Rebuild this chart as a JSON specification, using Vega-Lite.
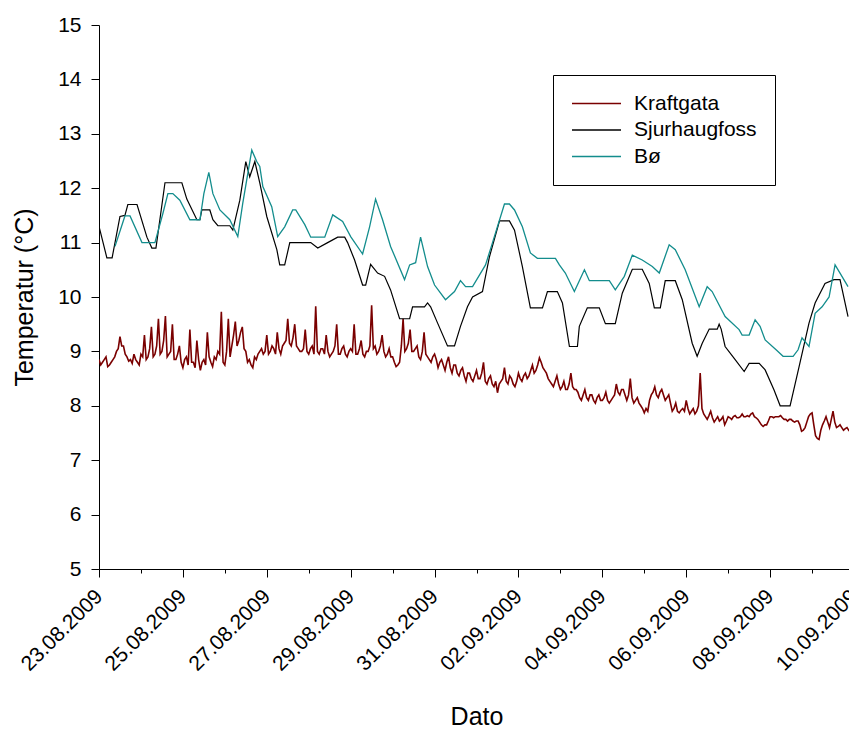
{
"$schema": "https://vega.github.io/schema/vega-lite/v6.json",
"width": 755, "height": 544,
"autosize": {"type": "none"},
"padding": {"left": 99, "top": 25, "right": 0, "bottom": 162},
"config": {"font": "Liberation Sans", "view": {"stroke": null},
 "axis": {"grid": false, "domainColor": "#000", "domainWidth": 1, "tickColor": "#000", "tickWidth": 1, "labelColor": "#000", "titleColor": "#000", "titleFontWeight": "normal", "labelFontSize": 21, "titleFontSize": 25}},
"datasets": {
"kraft": [
{"t":"2009-08-23T00:00","v":8.85},{"t":"2009-08-23T01:00","v":8.75},{"t":"2009-08-23T02:00","v":8.8},{"t":"2009-08-23T03:00","v":8.85},{"t":"2009-08-23T04:00","v":8.9},{"t":"2009-08-23T05:00","v":8.72},{"t":"2009-08-23T06:00","v":8.75},{"t":"2009-08-23T07:00","v":8.8},{"t":"2009-08-23T08:00","v":8.85},{"t":"2009-08-23T09:00","v":8.9},{"t":"2009-08-23T10:00","v":9.0},{"t":"2009-08-23T11:00","v":9.05},{"t":"2009-08-23T12:00","v":9.27},{"t":"2009-08-23T13:00","v":9.1},{"t":"2009-08-23T14:00","v":9.1},{"t":"2009-08-23T15:00","v":8.95},{"t":"2009-08-23T16:00","v":8.9},{"t":"2009-08-23T17:00","v":8.82},{"t":"2009-08-23T18:00","v":8.85},{"t":"2009-08-23T19:00","v":8.78},{"t":"2009-08-23T20:00","v":8.95},{"t":"2009-08-23T21:00","v":8.85},{"t":"2009-08-23T22:00","v":8.8},{"t":"2009-08-23T23:00","v":8.75},
{"t":"2009-08-24T00:00","v":8.95},{"t":"2009-08-24T01:00","v":8.9},{"t":"2009-08-24T02:00","v":9.3},{"t":"2009-08-24T03:00","v":8.85},{"t":"2009-08-24T04:00","v":8.9},{"t":"2009-08-24T05:00","v":9.05},{"t":"2009-08-24T06:00","v":9.45},{"t":"2009-08-24T07:00","v":8.9},{"t":"2009-08-24T08:00","v":8.95},{"t":"2009-08-24T09:00","v":9.1},{"t":"2009-08-24T10:00","v":9.6},{"t":"2009-08-24T11:00","v":8.95},{"t":"2009-08-24T12:00","v":9.0},{"t":"2009-08-24T13:00","v":9.2},{"t":"2009-08-24T14:00","v":9.65},{"t":"2009-08-24T15:00","v":8.9},{"t":"2009-08-24T16:00","v":8.95},{"t":"2009-08-24T17:00","v":9.0},{"t":"2009-08-24T18:00","v":9.5},{"t":"2009-08-24T19:00","v":8.85},{"t":"2009-08-24T20:00","v":8.85},{"t":"2009-08-24T21:00","v":8.95},{"t":"2009-08-24T22:00","v":9.1},{"t":"2009-08-24T23:00","v":8.8},
{"t":"2009-08-25T00:00","v":8.7},{"t":"2009-08-25T01:00","v":8.85},{"t":"2009-08-25T02:00","v":8.9},{"t":"2009-08-25T03:00","v":8.75},{"t":"2009-08-25T04:00","v":9.4},{"t":"2009-08-25T05:00","v":8.8},{"t":"2009-08-25T06:00","v":8.8},{"t":"2009-08-25T07:00","v":8.7},{"t":"2009-08-25T08:00","v":9.2},{"t":"2009-08-25T09:00","v":8.85},{"t":"2009-08-25T10:00","v":8.65},{"t":"2009-08-25T11:00","v":8.8},{"t":"2009-08-25T12:00","v":8.85},{"t":"2009-08-25T13:00","v":8.75},{"t":"2009-08-25T14:00","v":9.35},{"t":"2009-08-25T15:00","v":8.9},{"t":"2009-08-25T16:00","v":8.8},{"t":"2009-08-25T17:00","v":8.72},{"t":"2009-08-25T18:00","v":8.9},{"t":"2009-08-25T19:00","v":8.85},{"t":"2009-08-25T20:00","v":9.0},{"t":"2009-08-25T21:00","v":8.95},{"t":"2009-08-25T22:00","v":9.73},{"t":"2009-08-25T23:00","v":8.8},
{"t":"2009-08-26T00:00","v":8.75},{"t":"2009-08-26T01:00","v":9.0},{"t":"2009-08-26T02:00","v":9.6},{"t":"2009-08-26T03:00","v":8.9},{"t":"2009-08-26T04:00","v":9.1},{"t":"2009-08-26T05:00","v":9.3},{"t":"2009-08-26T06:00","v":9.55},{"t":"2009-08-26T07:00","v":9.1},{"t":"2009-08-26T08:00","v":9.2},{"t":"2009-08-26T09:00","v":9.35},{"t":"2009-08-26T10:00","v":9.45},{"t":"2009-08-26T11:00","v":9.05},{"t":"2009-08-26T12:00","v":9.0},{"t":"2009-08-26T13:00","v":8.8},{"t":"2009-08-26T14:00","v":8.85},{"t":"2009-08-26T15:00","v":8.75},{"t":"2009-08-26T16:00","v":8.7},{"t":"2009-08-26T17:00","v":8.9},{"t":"2009-08-26T18:00","v":8.85},{"t":"2009-08-26T19:00","v":8.95},{"t":"2009-08-26T20:00","v":9.0},{"t":"2009-08-26T21:00","v":9.05},{"t":"2009-08-26T22:00","v":8.95},{"t":"2009-08-26T23:00","v":9.0},
{"t":"2009-08-27T00:00","v":9.3},{"t":"2009-08-27T01:00","v":8.95},{"t":"2009-08-27T02:00","v":9.0},{"t":"2009-08-27T03:00","v":9.1},{"t":"2009-08-27T04:00","v":9.05},{"t":"2009-08-27T05:00","v":8.95},{"t":"2009-08-27T06:00","v":9.35},{"t":"2009-08-27T07:00","v":9.05},{"t":"2009-08-27T08:00","v":8.95},{"t":"2009-08-27T09:00","v":9.1},{"t":"2009-08-27T10:00","v":9.15},{"t":"2009-08-27T11:00","v":9.2},{"t":"2009-08-27T12:00","v":9.6},{"t":"2009-08-27T13:00","v":9.15},{"t":"2009-08-27T14:00","v":9.1},{"t":"2009-08-27T15:00","v":9.25},{"t":"2009-08-27T16:00","v":9.5},{"t":"2009-08-27T17:00","v":9.1},{"t":"2009-08-27T18:00","v":9.05},{"t":"2009-08-27T19:00","v":9.0},{"t":"2009-08-27T20:00","v":9.0},{"t":"2009-08-27T21:00","v":9.05},{"t":"2009-08-27T22:00","v":9.4},{"t":"2009-08-27T23:00","v":9.0},
{"t":"2009-08-28T00:00","v":8.95},{"t":"2009-08-28T01:00","v":9.05},{"t":"2009-08-28T02:00","v":9.1},{"t":"2009-08-28T03:00","v":8.95},{"t":"2009-08-28T04:00","v":9.83},{"t":"2009-08-28T05:00","v":9.0},{"t":"2009-08-28T06:00","v":8.95},{"t":"2009-08-28T07:00","v":9.05},{"t":"2009-08-28T08:00","v":9.05},{"t":"2009-08-28T09:00","v":8.95},{"t":"2009-08-28T10:00","v":9.3},{"t":"2009-08-28T11:00","v":9.0},{"t":"2009-08-28T12:00","v":8.9},{"t":"2009-08-28T13:00","v":8.95},{"t":"2009-08-28T14:00","v":9.0},{"t":"2009-08-28T15:00","v":9.1},{"t":"2009-08-28T16:00","v":9.5},{"t":"2009-08-28T17:00","v":8.95},{"t":"2009-08-28T18:00","v":8.95},{"t":"2009-08-28T19:00","v":9.05},{"t":"2009-08-28T20:00","v":9.1},{"t":"2009-08-28T21:00","v":8.95},{"t":"2009-08-28T22:00","v":8.9},{"t":"2009-08-28T23:00","v":9.0},
{"t":"2009-08-29T00:00","v":9.05},{"t":"2009-08-29T01:00","v":9.0},{"t":"2009-08-29T02:00","v":9.5},{"t":"2009-08-29T03:00","v":8.95},{"t":"2009-08-29T04:00","v":8.95},{"t":"2009-08-29T05:00","v":9.05},{"t":"2009-08-29T06:00","v":9.2},{"t":"2009-08-29T07:00","v":8.95},{"t":"2009-08-29T08:00","v":8.9},{"t":"2009-08-29T09:00","v":9.0},{"t":"2009-08-29T10:00","v":9.0},{"t":"2009-08-29T11:00","v":9.1},{"t":"2009-08-29T12:00","v":9.85},{"t":"2009-08-29T13:00","v":9.05},{"t":"2009-08-29T14:00","v":9.1},{"t":"2009-08-29T15:00","v":8.95},{"t":"2009-08-29T16:00","v":9.0},{"t":"2009-08-29T17:00","v":9.1},{"t":"2009-08-29T18:00","v":9.3},{"t":"2009-08-29T19:00","v":9.0},{"t":"2009-08-29T20:00","v":8.9},{"t":"2009-08-29T21:00","v":8.95},{"t":"2009-08-29T22:00","v":9.05},{"t":"2009-08-29T23:00","v":8.9},
{"t":"2009-08-30T00:00","v":8.9},{"t":"2009-08-30T01:00","v":8.8},{"t":"2009-08-30T02:00","v":8.72},{"t":"2009-08-30T03:00","v":8.75},{"t":"2009-08-30T04:00","v":8.8},{"t":"2009-08-30T05:00","v":9.1},{"t":"2009-08-30T06:00","v":9.6},{"t":"2009-08-30T07:00","v":9.0},{"t":"2009-08-30T08:00","v":9.05},{"t":"2009-08-30T09:00","v":9.15},{"t":"2009-08-30T10:00","v":9.4},{"t":"2009-08-30T11:00","v":9.0},{"t":"2009-08-30T12:00","v":9.0},{"t":"2009-08-30T13:00","v":9.05},{"t":"2009-08-30T14:00","v":9.1},{"t":"2009-08-30T15:00","v":8.9},{"t":"2009-08-30T16:00","v":8.85},{"t":"2009-08-30T17:00","v":9.0},{"t":"2009-08-30T18:00","v":9.35},{"t":"2009-08-30T19:00","v":8.95},{"t":"2009-08-30T20:00","v":8.9},{"t":"2009-08-30T21:00","v":8.85},{"t":"2009-08-30T22:00","v":8.8},{"t":"2009-08-30T23:00","v":8.9},
{"t":"2009-08-31T00:00","v":8.95},{"t":"2009-08-31T01:00","v":8.85},{"t":"2009-08-31T02:00","v":8.7},{"t":"2009-08-31T03:00","v":8.8},{"t":"2009-08-31T04:00","v":8.85},{"t":"2009-08-31T05:00","v":8.75},{"t":"2009-08-31T06:00","v":8.65},{"t":"2009-08-31T07:00","v":8.8},{"t":"2009-08-31T08:00","v":8.9},{"t":"2009-08-31T09:00","v":8.7},{"t":"2009-08-31T10:00","v":8.6},{"t":"2009-08-31T11:00","v":8.75},{"t":"2009-08-31T12:00","v":8.75},{"t":"2009-08-31T13:00","v":8.6},{"t":"2009-08-31T14:00","v":8.55},{"t":"2009-08-31T15:00","v":8.65},{"t":"2009-08-31T16:00","v":8.7},{"t":"2009-08-31T17:00","v":8.55},{"t":"2009-08-31T18:00","v":8.45},{"t":"2009-08-31T19:00","v":8.6},{"t":"2009-08-31T20:00","v":8.6},{"t":"2009-08-31T21:00","v":8.5},{"t":"2009-08-31T22:00","v":8.45},{"t":"2009-08-31T23:00","v":8.55},
{"t":"2009-09-01T00:00","v":8.65},{"t":"2009-09-01T01:00","v":8.5},{"t":"2009-09-01T02:00","v":8.5},{"t":"2009-09-01T03:00","v":8.6},{"t":"2009-09-01T04:00","v":8.8},{"t":"2009-09-01T05:00","v":8.45},{"t":"2009-09-01T06:00","v":8.4},{"t":"2009-09-01T07:00","v":8.5},{"t":"2009-09-01T08:00","v":8.55},{"t":"2009-09-01T09:00","v":8.4},{"t":"2009-09-01T10:00","v":8.35},{"t":"2009-09-01T11:00","v":8.45},{"t":"2009-09-01T12:00","v":8.24},{"t":"2009-09-01T13:00","v":8.4},{"t":"2009-09-01T14:00","v":8.45},{"t":"2009-09-01T15:00","v":8.5},{"t":"2009-09-01T16:00","v":8.7},{"t":"2009-09-01T17:00","v":8.45},{"t":"2009-09-01T18:00","v":8.4},{"t":"2009-09-01T19:00","v":8.55},{"t":"2009-09-01T20:00","v":8.5},{"t":"2009-09-01T21:00","v":8.4},{"t":"2009-09-01T22:00","v":8.35},{"t":"2009-09-01T23:00","v":8.45},
{"t":"2009-09-02T00:00","v":8.6},{"t":"2009-09-02T01:00","v":8.5},{"t":"2009-09-02T02:00","v":8.45},{"t":"2009-09-02T03:00","v":8.55},{"t":"2009-09-02T04:00","v":8.6},{"t":"2009-09-02T05:00","v":8.5},{"t":"2009-09-02T06:00","v":8.55},{"t":"2009-09-02T07:00","v":8.65},{"t":"2009-09-02T08:00","v":8.75},{"t":"2009-09-02T09:00","v":8.6},{"t":"2009-09-02T10:00","v":8.65},{"t":"2009-09-02T11:00","v":8.75},{"t":"2009-09-02T12:00","v":8.88},{"t":"2009-09-02T13:00","v":8.8},{"t":"2009-09-02T14:00","v":8.7},{"t":"2009-09-02T15:00","v":8.65},{"t":"2009-09-02T16:00","v":8.6},{"t":"2009-09-02T17:00","v":8.5},{"t":"2009-09-02T18:00","v":8.45},{"t":"2009-09-02T19:00","v":8.4},{"t":"2009-09-02T20:00","v":8.35},{"t":"2009-09-02T21:00","v":8.45},{"t":"2009-09-02T22:00","v":8.55},{"t":"2009-09-02T23:00","v":8.4},
{"t":"2009-09-03T00:00","v":8.3},{"t":"2009-09-03T01:00","v":8.35},{"t":"2009-09-03T02:00","v":8.45},{"t":"2009-09-03T03:00","v":8.3},{"t":"2009-09-03T04:00","v":8.3},{"t":"2009-09-03T05:00","v":8.4},{"t":"2009-09-03T06:00","v":8.6},{"t":"2009-09-03T07:00","v":8.35},{"t":"2009-09-03T08:00","v":8.3},{"t":"2009-09-03T09:00","v":8.3},{"t":"2009-09-03T10:00","v":8.25},{"t":"2009-09-03T11:00","v":8.15},{"t":"2009-09-03T12:00","v":8.1},{"t":"2009-09-03T13:00","v":8.2},{"t":"2009-09-03T14:00","v":8.3},{"t":"2009-09-03T15:00","v":8.15},{"t":"2009-09-03T16:00","v":8.1},{"t":"2009-09-03T17:00","v":8.2},{"t":"2009-09-03T18:00","v":8.2},{"t":"2009-09-03T19:00","v":8.1},{"t":"2009-09-03T20:00","v":8.05},{"t":"2009-09-03T21:00","v":8.15},{"t":"2009-09-03T22:00","v":8.2},{"t":"2009-09-03T23:00","v":8.1},
{"t":"2009-09-04T00:00","v":8.1},{"t":"2009-09-04T01:00","v":8.15},{"t":"2009-09-04T02:00","v":8.25},{"t":"2009-09-04T03:00","v":8.1},{"t":"2009-09-04T04:00","v":8.05},{"t":"2009-09-04T05:00","v":8.1},{"t":"2009-09-04T06:00","v":8.15},{"t":"2009-09-04T07:00","v":8.2},{"t":"2009-09-04T08:00","v":8.4},{"t":"2009-09-04T09:00","v":8.25},{"t":"2009-09-04T10:00","v":8.2},{"t":"2009-09-04T11:00","v":8.3},{"t":"2009-09-04T12:00","v":8.3},{"t":"2009-09-04T13:00","v":8.2},{"t":"2009-09-04T14:00","v":8.1},{"t":"2009-09-04T15:00","v":8.2},{"t":"2009-09-04T16:00","v":8.5},{"t":"2009-09-04T17:00","v":8.15},{"t":"2009-09-04T18:00","v":8.05},{"t":"2009-09-04T19:00","v":8.1},{"t":"2009-09-04T20:00","v":8.15},{"t":"2009-09-04T21:00","v":8.05},{"t":"2009-09-04T22:00","v":8.0},{"t":"2009-09-04T23:00","v":7.95},
{"t":"2009-09-05T00:00","v":7.87},{"t":"2009-09-05T01:00","v":7.95},{"t":"2009-09-05T02:00","v":7.9},{"t":"2009-09-05T03:00","v":8.1},{"t":"2009-09-05T04:00","v":8.2},{"t":"2009-09-05T05:00","v":8.25},{"t":"2009-09-05T06:00","v":8.35},{"t":"2009-09-05T07:00","v":8.2},{"t":"2009-09-05T08:00","v":8.15},{"t":"2009-09-05T09:00","v":8.25},{"t":"2009-09-05T10:00","v":8.3},{"t":"2009-09-05T11:00","v":8.2},{"t":"2009-09-05T12:00","v":8.1},{"t":"2009-09-05T13:00","v":8.15},{"t":"2009-09-05T14:00","v":8.2},{"t":"2009-09-05T15:00","v":8.05},{"t":"2009-09-05T16:00","v":7.9},{"t":"2009-09-05T17:00","v":7.95},{"t":"2009-09-05T18:00","v":8.05},{"t":"2009-09-05T19:00","v":7.9},{"t":"2009-09-05T20:00","v":7.87},{"t":"2009-09-05T21:00","v":7.92},{"t":"2009-09-05T22:00","v":7.95},{"t":"2009-09-05T23:00","v":7.9},
{"t":"2009-09-06T00:00","v":8.1},{"t":"2009-09-06T01:00","v":7.95},{"t":"2009-09-06T02:00","v":7.85},{"t":"2009-09-06T03:00","v":7.9},{"t":"2009-09-06T04:00","v":7.95},{"t":"2009-09-06T05:00","v":7.85},{"t":"2009-09-06T06:00","v":7.9},{"t":"2009-09-06T07:00","v":8.0},{"t":"2009-09-06T08:00","v":8.6},{"t":"2009-09-06T09:00","v":7.95},{"t":"2009-09-06T10:00","v":7.85},{"t":"2009-09-06T11:00","v":7.8},{"t":"2009-09-06T12:00","v":7.75},{"t":"2009-09-06T13:00","v":7.82},{"t":"2009-09-06T14:00","v":7.9},{"t":"2009-09-06T15:00","v":7.78},{"t":"2009-09-06T16:00","v":7.7},{"t":"2009-09-06T17:00","v":7.75},{"t":"2009-09-06T18:00","v":7.8},{"t":"2009-09-06T19:00","v":7.72},{"t":"2009-09-06T20:00","v":7.75},{"t":"2009-09-06T21:00","v":7.8},{"t":"2009-09-06T22:00","v":7.65},{"t":"2009-09-06T23:00","v":7.72},
{"t":"2009-09-07T00:00","v":7.8},{"t":"2009-09-07T01:00","v":7.78},{"t":"2009-09-07T02:00","v":7.75},{"t":"2009-09-07T03:00","v":7.8},{"t":"2009-09-07T04:00","v":7.82},{"t":"2009-09-07T05:00","v":7.78},{"t":"2009-09-07T06:00","v":7.78},{"t":"2009-09-07T07:00","v":7.8},{"t":"2009-09-07T08:00","v":7.85},{"t":"2009-09-07T09:00","v":7.8},{"t":"2009-09-07T10:00","v":7.8},{"t":"2009-09-07T11:00","v":7.82},{"t":"2009-09-07T12:00","v":7.8},{"t":"2009-09-07T13:00","v":7.85},{"t":"2009-09-07T14:00","v":7.87},{"t":"2009-09-07T15:00","v":7.8},{"t":"2009-09-07T16:00","v":7.78},{"t":"2009-09-07T17:00","v":7.75},{"t":"2009-09-07T18:00","v":7.7},{"t":"2009-09-07T19:00","v":7.65},{"t":"2009-09-07T20:00","v":7.62},{"t":"2009-09-07T21:00","v":7.65},{"t":"2009-09-07T22:00","v":7.65},{"t":"2009-09-07T23:00","v":7.72},
{"t":"2009-09-08T00:00","v":7.8},{"t":"2009-09-08T01:00","v":7.8},{"t":"2009-09-08T02:00","v":7.78},{"t":"2009-09-08T03:00","v":7.8},{"t":"2009-09-08T04:00","v":7.8},{"t":"2009-09-08T05:00","v":7.8},{"t":"2009-09-08T06:00","v":7.82},{"t":"2009-09-08T07:00","v":7.78},{"t":"2009-09-08T08:00","v":7.75},{"t":"2009-09-08T09:00","v":7.75},{"t":"2009-09-08T10:00","v":7.72},{"t":"2009-09-08T11:00","v":7.75},{"t":"2009-09-08T12:00","v":7.75},{"t":"2009-09-08T13:00","v":7.72},{"t":"2009-09-08T14:00","v":7.7},{"t":"2009-09-08T15:00","v":7.72},{"t":"2009-09-08T16:00","v":7.72},{"t":"2009-09-08T17:00","v":7.65},{"t":"2009-09-08T18:00","v":7.53},{"t":"2009-09-08T19:00","v":7.55},{"t":"2009-09-08T20:00","v":7.6},{"t":"2009-09-08T21:00","v":7.7},{"t":"2009-09-08T22:00","v":7.8},{"t":"2009-09-08T23:00","v":7.85},
{"t":"2009-09-09T00:00","v":7.87},{"t":"2009-09-09T01:00","v":7.65},{"t":"2009-09-09T02:00","v":7.45},{"t":"2009-09-09T03:00","v":7.4},{"t":"2009-09-09T04:00","v":7.38},{"t":"2009-09-09T05:00","v":7.55},{"t":"2009-09-09T06:00","v":7.65},{"t":"2009-09-09T07:00","v":7.72},{"t":"2009-09-09T08:00","v":7.8},{"t":"2009-09-09T09:00","v":7.7},{"t":"2009-09-09T10:00","v":7.6},{"t":"2009-09-09T11:00","v":7.75},{"t":"2009-09-09T12:00","v":7.9},{"t":"2009-09-09T13:00","v":7.7},{"t":"2009-09-09T14:00","v":7.6},{"t":"2009-09-09T15:00","v":7.62},{"t":"2009-09-09T16:00","v":7.65},{"t":"2009-09-09T17:00","v":7.6},{"t":"2009-09-09T18:00","v":7.55},{"t":"2009-09-09T19:00","v":7.58},{"t":"2009-09-09T20:00","v":7.6},{"t":"2009-09-09T21:00","v":7.55},{"t":"2009-09-09T22:00","v":7.58},{"t":"2009-09-09T23:00","v":7.6}
],
"sjur": [
{"t":"2009-08-23T00:00","v":11.3},{"t":"2009-08-23T04:30","v":10.72},{"t":"2009-08-23T07:30","v":10.72},{"t":"2009-08-23T12:00","v":11.48},{"t":"2009-08-23T14:50","v":11.5},{"t":"2009-08-23T16:30","v":11.7},{"t":"2009-08-23T21:45","v":11.7},
{"t":"2009-08-24T03:25","v":11.1},{"t":"2009-08-24T06:15","v":10.9},{"t":"2009-08-24T08:35","v":10.9},{"t":"2009-08-24T13:45","v":12.1},{"t":"2009-08-24T23:25","v":12.1},
{"t":"2009-08-25T02:15","v":11.8},{"t":"2009-08-25T08:00","v":11.42},{"t":"2009-08-25T09:45","v":11.42},{"t":"2009-08-25T10:50","v":11.6},{"t":"2009-08-25T15:25","v":11.6},{"t":"2009-08-25T17:10","v":11.42},{"t":"2009-08-25T20:00","v":11.31},
{"t":"2009-08-26T02:50","v":11.31},{"t":"2009-08-26T04:35","v":11.23},{"t":"2009-08-26T08:35","v":11.78},{"t":"2009-08-26T12:00","v":12.49},{"t":"2009-08-26T14:15","v":12.21},{"t":"2009-08-26T17:10","v":12.49},{"t":"2009-08-26T20:00","v":12.1},
{"t":"2009-08-27T00:00","v":11.48},{"t":"2009-08-27T05:45","v":10.87},{"t":"2009-08-27T07:25","v":10.59},{"t":"2009-08-27T10:15","v":10.59},{"t":"2009-08-27T13:10","v":11.0},
{"t":"2009-08-28T01:10","v":11.0},{"t":"2009-08-28T05:10","v":10.9},{"t":"2009-08-28T10:50","v":11.0},{"t":"2009-08-28T16:35","v":11.1},{"t":"2009-08-28T20:35","v":11.1},{"t":"2009-08-28T22:15","v":11.0},
{"t":"2009-08-29T02:15","v":10.68},{"t":"2009-08-29T06:50","v":10.22},{"t":"2009-08-29T08:35","v":10.22},{"t":"2009-08-29T11:25","v":10.6},{"t":"2009-08-29T15:25","v":10.44},{"t":"2009-08-29T19:25","v":10.38},{"t":"2009-08-29T22:50","v":10.13},
{"t":"2009-08-30T04:00","v":9.6},{"t":"2009-08-30T09:45","v":9.6},{"t":"2009-08-30T11:25","v":9.82},{"t":"2009-08-30T18:15","v":9.82},{"t":"2009-08-30T20:00","v":9.89},{"t":"2009-08-30T21:45","v":9.82},
{"t":"2009-08-31T01:45","v":9.52},{"t":"2009-08-31T07:25","v":9.1},{"t":"2009-08-31T11:25","v":9.1},{"t":"2009-08-31T14:50","v":9.46},{"t":"2009-08-31T18:50","v":9.82},{"t":"2009-08-31T21:45","v":10.0},
{"t":"2009-09-01T03:25","v":10.1},{"t":"2009-09-01T07:25","v":10.74},{"t":"2009-09-01T13:10","v":11.4},{"t":"2009-09-01T18:50","v":11.4},{"t":"2009-09-01T21:45","v":11.23},
{"t":"2009-09-02T02:15","v":10.56},{"t":"2009-09-02T06:50","v":9.8},{"t":"2009-09-02T13:45","v":9.8},{"t":"2009-09-02T16:35","v":10.1},{"t":"2009-09-02T22:15","v":10.1},
{"t":"2009-09-03T01:10","v":9.89},{"t":"2009-09-03T05:10","v":9.09},{"t":"2009-09-03T09:45","v":9.09},{"t":"2009-09-03T10:50","v":9.46},{"t":"2009-09-03T15:25","v":9.8},{"t":"2009-09-03T22:15","v":9.8},
{"t":"2009-09-04T01:45","v":9.51},{"t":"2009-09-04T07:25","v":9.51},{"t":"2009-09-04T11:25","v":10.07},{"t":"2009-09-04T17:10","v":10.51},{"t":"2009-09-04T22:50","v":10.51},
{"t":"2009-09-05T02:50","v":10.25},{"t":"2009-09-05T05:45","v":9.8},{"t":"2009-09-05T09:10","v":9.8},{"t":"2009-09-05T12:00","v":10.3},{"t":"2009-09-05T17:45","v":10.3},{"t":"2009-09-05T21:45","v":9.95},
{"t":"2009-09-06T03:25","v":9.15},{"t":"2009-09-06T06:15","v":8.91},{"t":"2009-09-06T09:10","v":9.15},{"t":"2009-09-06T13:10","v":9.41},{"t":"2009-09-06T17:45","v":9.41},{"t":"2009-09-06T18:50","v":9.5},{"t":"2009-09-06T20:00","v":9.41},{"t":"2009-09-06T22:15","v":9.09},
{"t":"2009-09-07T04:00","v":8.85},{"t":"2009-09-07T09:10","v":8.63},{"t":"2009-09-07T12:00","v":8.78},{"t":"2009-09-07T17:45","v":8.78},{"t":"2009-09-07T21:10","v":8.66},
{"t":"2009-09-08T02:15","v":8.29},{"t":"2009-09-08T05:45","v":8.0},{"t":"2009-09-08T11:25","v":8.0},{"t":"2009-09-08T16:35","v":8.72},{"t":"2009-09-08T22:15","v":9.52},
{"t":"2009-09-09T01:45","v":9.89},{"t":"2009-09-09T07:25","v":10.25},{"t":"2009-09-09T12:35","v":10.32},{"t":"2009-09-09T16:00","v":10.32},{"t":"2009-09-09T20:35","v":9.64}
],
"bo": [
{"t":"2009-08-23T09:10","v":10.93},{"t":"2009-08-23T14:50","v":11.49},{"t":"2009-08-23T17:45","v":11.49},
{"t":"2009-08-24T00:35","v":11.0},{"t":"2009-08-24T08:00","v":11.0},{"t":"2009-08-24T12:35","v":11.54},{"t":"2009-08-24T15:25","v":11.9},{"t":"2009-08-24T18:15","v":11.9},{"t":"2009-08-24T22:15","v":11.78},
{"t":"2009-08-25T04:00","v":11.42},{"t":"2009-08-25T09:45","v":11.42},{"t":"2009-08-25T12:00","v":11.9},{"t":"2009-08-25T14:50","v":12.29},{"t":"2009-08-25T17:10","v":11.9},{"t":"2009-08-25T21:10","v":11.6},
{"t":"2009-08-26T02:50","v":11.42},{"t":"2009-08-26T07:25","v":11.11},{"t":"2009-08-26T10:15","v":11.72},{"t":"2009-08-26T15:25","v":12.7},{"t":"2009-08-26T18:15","v":12.49},{"t":"2009-08-26T20:00","v":12.4},{"t":"2009-08-26T21:45","v":12.03},
{"t":"2009-08-27T02:50","v":11.66},{"t":"2009-08-27T06:15","v":11.11},{"t":"2009-08-27T10:15","v":11.29},{"t":"2009-08-27T14:50","v":11.6},{"t":"2009-08-27T16:35","v":11.6},{"t":"2009-08-27T21:45","v":11.33},
{"t":"2009-08-28T01:10","v":11.1},{"t":"2009-08-28T09:10","v":11.1},{"t":"2009-08-28T13:45","v":11.51},{"t":"2009-08-28T19:25","v":11.39},
{"t":"2009-08-29T00:00","v":11.11},{"t":"2009-08-29T06:50","v":10.79},{"t":"2009-08-29T10:50","v":11.29},{"t":"2009-08-29T14:15","v":11.8},{"t":"2009-08-29T18:15","v":11.42},{"t":"2009-08-29T22:50","v":10.93},
{"t":"2009-08-30T06:50","v":10.32},{"t":"2009-08-30T09:45","v":10.59},{"t":"2009-08-30T13:10","v":10.63},{"t":"2009-08-30T16:00","v":11.1},{"t":"2009-08-30T20:00","v":10.56},
{"t":"2009-08-31T00:00","v":10.22},{"t":"2009-08-31T06:15","v":9.95},{"t":"2009-08-31T11:25","v":10.1},{"t":"2009-08-31T14:50","v":10.3},{"t":"2009-08-31T17:45","v":10.19},{"t":"2009-08-31T21:45","v":10.19},
{"t":"2009-09-01T05:10","v":10.59},{"t":"2009-09-01T09:10","v":11.0},{"t":"2009-09-01T16:00","v":11.71},{"t":"2009-09-01T18:50","v":11.71},{"t":"2009-09-01T21:45","v":11.6},
{"t":"2009-09-02T02:15","v":11.29},{"t":"2009-09-02T06:50","v":10.81},{"t":"2009-09-02T10:50","v":10.71},{"t":"2009-09-02T21:10","v":10.71},{"t":"2009-09-02T23:25","v":10.59},
{"t":"2009-09-03T02:50","v":10.44},{"t":"2009-09-03T08:00","v":10.1},{"t":"2009-09-03T13:45","v":10.5},{"t":"2009-09-03T16:35","v":10.3},
{"t":"2009-09-04T04:00","v":10.3},{"t":"2009-09-04T07:25","v":10.13},{"t":"2009-09-04T12:35","v":10.38},{"t":"2009-09-04T17:10","v":10.77},{"t":"2009-09-04T22:50","v":10.68},
{"t":"2009-09-05T04:35","v":10.56},{"t":"2009-09-05T08:35","v":10.44},{"t":"2009-09-05T14:15","v":10.96},{"t":"2009-09-05T17:45","v":10.87},{"t":"2009-09-05T23:25","v":10.5},
{"t":"2009-09-06T07:25","v":9.82},{"t":"2009-09-06T12:00","v":10.19},{"t":"2009-09-06T14:50","v":10.1},{"t":"2009-09-06T22:15","v":9.64},
{"t":"2009-09-07T06:15","v":9.4},{"t":"2009-09-07T08:00","v":9.3},{"t":"2009-09-07T12:00","v":9.3},{"t":"2009-09-07T15:25","v":9.58},{"t":"2009-09-07T18:15","v":9.46},{"t":"2009-09-07T21:10","v":9.21},
{"t":"2009-09-08T03:25","v":9.03},{"t":"2009-09-08T07:25","v":8.91},{"t":"2009-09-08T13:10","v":8.91},{"t":"2009-09-08T16:00","v":9.03},{"t":"2009-09-08T18:15","v":9.25},{"t":"2009-09-08T22:15","v":9.09},
{"t":"2009-09-09T01:45","v":9.7},{"t":"2009-09-09T05:45","v":9.82},{"t":"2009-09-09T09:45","v":10.0},{"t":"2009-09-09T13:10","v":10.59},{"t":"2009-09-09T16:00","v":10.44},{"t":"2009-09-09T20:35","v":10.19}
]
},
"layer": [
 {"data": {"name": "kraft"}, "transform": [], "mark": {"type": "line", "strokeWidth": 1.6, "clip": true},
  "encoding": {"x": {"field": "t", "type": "temporal"}, "y": {"field": "v", "type": "quantitative"}, "color": {"datum": "Kraftgata"}}},
 {"data": {"name": "sjur"}, "mark": {"type": "line", "strokeWidth": 1.2, "clip": true},
  "encoding": {"x": {"field": "t", "type": "temporal"}, "y": {"field": "v", "type": "quantitative"}, "color": {"datum": "Sjurhaugfoss"}}},
 {"data": {"name": "bo"}, "mark": {"type": "line", "strokeWidth": 1.3, "clip": true},
  "encoding": {
   "x": {"field": "t", "type": "temporal",
    "scale": {"domain": [{"year": 2009, "month": 8, "date": 23}, {"year": 2009, "month": 9, "date": 10}]},
    "axis": {"title": "Dato", "tickCount": {"interval": "day", "step": 1}, "labelAngle": -45, "labelAlign": "right", "labelBaseline": "middle", "labelPadding": 16,
     "labelExpr": "(date(datum.value) + (month(datum.value) == 7 ? 1 : 0)) % 2 == 0 ? timeFormat(datum.value, '%d.%m.%Y') : ''",
     "tickSize": {"condition": {"test": "(date(datum.value) + (month(datum.value) == 7 ? 1 : 0)) % 2 == 0", "value": 8}, "value": 4},
     "labelOverlap": false, "labelBound": false, "titlePadding": 30}},
   "y": {"field": "v", "type": "quantitative",
    "scale": {"domain": [5, 15], "nice": false, "zero": false},
    "axis": {"title": "Temperatur (°C)", "values": [5,5.5,6,6.5,7,7.5,8,8.5,9,9.5,10,10.5,11,11.5,12,12.5,13,13.5,14,14.5,15],
     "labelExpr": "datum.value % 1 == 0 ? format(datum.value, 'd') : ''",
     "tickSize": {"condition": {"test": "datum.value % 1 == 0", "value": 8}, "value": 4},
     "labelPadding": 10, "titlePadding": 20, "labelOverlap": false}},
   "color": {"datum": "Bø", "type": "nominal",
    "scale": {"domain": ["Kraftgata", "Sjurhaugfoss", "Bø"], "range": ["#7a0000", "#000000", "#138d8d"]},
    "legend": {"title": null, "orient": "none", "legendX": 454, "legendY": 50, "strokeColor": "#000", "padding": 18,
     "symbolType": "stroke", "symbolSize": 2401, "symbolStrokeWidth": 1.5, "clipHeight": 21, "rowPadding": 4.5,
     "labelFontSize": 21, "labelOffset": 12, "labelColor": "#000"}}}}
]
}
